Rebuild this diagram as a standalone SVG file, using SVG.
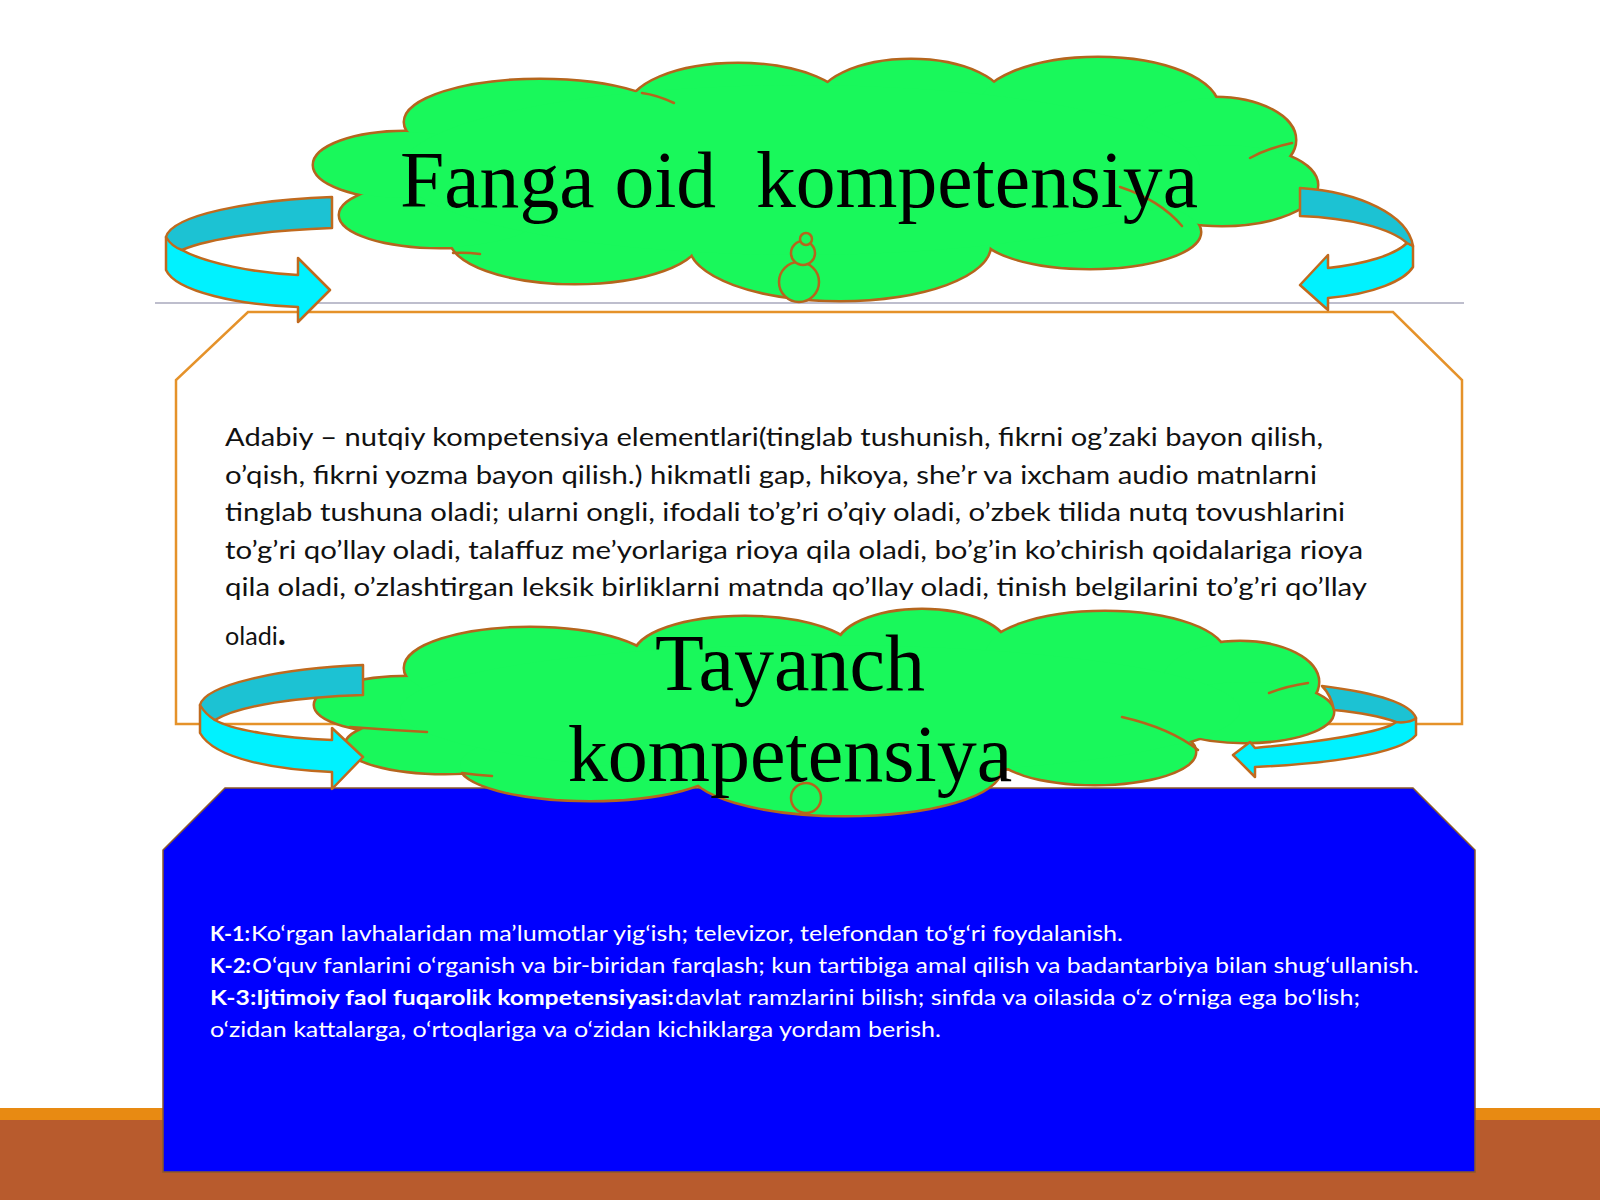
<svg xmlns="http://www.w3.org/2000/svg" xmlns:xlink="http://www.w3.org/1999/xlink" width="1600" height="1200" viewBox="0 0 1600 1200">
<style>
.serif{font-family:"Liberation Serif","Times New Roman",serif;fill:#000;font-size:80px}
.body{font-family:Lato,"Liberation Sans",sans-serif;fill:#111;font-size:25px}
.wt{font-family:Lato,"Liberation Sans",sans-serif;fill:#fff;font-size:21px}
.b{font-weight:bold}
.crease{fill:none;stroke:#B5651D;stroke-width:2.5;stroke-linecap:round}
.back{fill:#1CC2D3;stroke:#C06A1E;stroke-width:2.5;stroke-linejoin:round}
.front{fill:#00F2FF;stroke:#C06A1E;stroke-width:2.5;stroke-linejoin:round}
.knob{fill:#19F85B;stroke:#B5651D;stroke-width:2.5}
</style>
<defs>
<g id="tcShape">
<ellipse cx="540" cy="122" rx="135" ry="42"/>
<ellipse cx="738" cy="110" rx="110" ry="46"/>
<ellipse cx="911" cy="105" rx="95" ry="45"/>
<ellipse cx="1098" cy="108" rx="120" ry="50"/>
<ellipse cx="1215" cy="140" rx="80" ry="42"/>
<ellipse cx="1222" cy="185" rx="95" ry="40"/>
<ellipse cx="1090" cy="232" rx="110" ry="36"/>
<ellipse cx="840" cy="245" rx="150" ry="55"/>
<ellipse cx="575" cy="238" rx="125" ry="45"/>
<ellipse cx="440" cy="215" rx="100" ry="32"/>
<ellipse cx="405" cy="165" rx="91" ry="33"/>
<ellipse cx="800" cy="170" rx="400" ry="85"/>
</g>
<g id="bcShape">
<ellipse cx="410" cy="705" rx="95" ry="28"/>
<ellipse cx="445" cy="745" rx="99" ry="28"/>
<ellipse cx="530" cy="668" rx="125" ry="40"/>
<ellipse cx="745" cy="655" rx="110" ry="38"/>
<ellipse cx="922" cy="648" rx="85" ry="38"/>
<ellipse cx="1105" cy="655" rx="120" ry="43"/>
<ellipse cx="1240" cy="682" rx="78" ry="40"/>
<ellipse cx="1245" cy="712" rx="88" ry="30"/>
<ellipse cx="1095" cy="752" rx="100" ry="32"/>
<ellipse cx="845" cy="770" rx="155" ry="45"/>
<ellipse cx="590" cy="765" rx="130" ry="35"/>
<ellipse cx="820" cy="710" rx="420" ry="65"/>
</g>
</defs>

<g id="background">
<rect x="0" y="0" width="1600" height="1200" fill="#FFFFFF"/>
<rect x="0" y="1108" width="1600" height="92" fill="#B85B2D"/>
<rect x="0" y="1108" width="1600" height="12" fill="#E88A12"/>
<line x1="155" y1="303" x2="1464" y2="303" stroke="#A9A9BD" stroke-width="1.5"/>
</g>

<g id="node-literary-box">
<polygon points="248,312 1393,312 1462,380 1462,724 176,724 176,380" fill="#FFFFFF" stroke="#E5922A" stroke-width="2.5"/>
<text class="body" x="225" y="446" textLength="1098" lengthAdjust="spacingAndGlyphs">Adabiy – nutqiy kompetensiya elementlari(tinglab tushunish, fikrni og’zaki bayon qilish,</text>
<text class="body" x="225" y="484" textLength="1092" lengthAdjust="spacingAndGlyphs">o’qish, fikrni yozma bayon qilish.) hikmatli gap, hikoya, she’r va ixcham audio matnlarni</text>
<text class="body" x="225" y="521" textLength="1120" lengthAdjust="spacingAndGlyphs">tinglab tushuna oladi; ularni ongli, ifodali to’g’ri o’qiy oladi, o’zbek tilida nutq tovushlarini</text>
<text class="body" x="225" y="559" textLength="1138" lengthAdjust="spacingAndGlyphs">to’g’ri qo’llay oladi, talaffuz me’yorlariga rioya qila oladi, bo’g’in ko’chirish qoidalariga rioya</text>
<text class="body" x="225" y="596" textLength="1142" lengthAdjust="spacingAndGlyphs">qila oladi, o’zlashtirgan leksik birliklarni matnda qo’llay oladi, tinish belgilarini to’g’ri qo’llay</text>
<text class="body" x="225" y="645" font-size="26" textLength="61" lengthAdjust="spacingAndGlyphs">oladi<tspan font-size="34" font-weight="bold">.</tspan></text>
</g>

<g id="node-fanga-oid">
<use xlink:href="#tcShape" href="#tcShape" fill="#19F85B" stroke="#B5651D" stroke-width="5"/>
<use xlink:href="#tcShape" href="#tcShape" fill="#19F85B" stroke="none"/>
<path class="crease" d="M642,93 Q657,95 674,103"/>
<path class="crease" d="M1250,158 Q1268,148 1292,143"/>
<path class="crease" d="M1120,187 Q1160,200 1182,226"/>
<path class="crease" d="M453,253 Q465,252 480,254"/>
<circle class="knob" cx="799" cy="282" r="20"/>
<circle class="knob" cx="803" cy="253" r="12"/>
<circle class="knob" cx="806" cy="239" r="6"/>
<text class="serif" x="400" y="207" textLength="798" lengthAdjust="spacingAndGlyphs" xml:space="preserve">Fanga oid  kompetensiya</text>
</g>

<g id="node-tayanch-box">
<polygon points="225,788 1413,788 1475,850 1475,1172 163,1172 163,850" fill="#0000FE" stroke="#8A5A2A" stroke-width="1.5"/>
<text class="wt b" x="210" y="941" textLength="40" lengthAdjust="spacingAndGlyphs">K-1:</text>
<text class="wt" x="251" y="941" textLength="872" lengthAdjust="spacingAndGlyphs">Ko‘rgan lavhalaridan ma’lumotlar yig‘ish; televizor, telefondan to‘g‘ri foydalanish.</text>
<text class="wt b" x="210" y="973" textLength="41" lengthAdjust="spacingAndGlyphs">K-2:</text>
<text class="wt" x="252" y="973" textLength="1167" lengthAdjust="spacingAndGlyphs">O‘quv fanlarini o‘rganish va bir-biridan farqlash; kun tartibiga amal qilish va badantarbiya bilan shug‘ullanish.</text>
<text class="wt b" x="210" y="1005" textLength="464" lengthAdjust="spacingAndGlyphs">K-3:Ijtimoiy faol fuqarolik kompetensiyasi:</text>
<text class="wt" x="675" y="1005" textLength="685" lengthAdjust="spacingAndGlyphs">davlat ramzlarini bilish; sinfda va oilasida o‘z o‘rniga ega bo‘lish;</text>
<text class="wt" x="210" y="1037" textLength="731" lengthAdjust="spacingAndGlyphs">o‘zidan kattalarga, o‘rtoqlariga va o‘zidan kichiklarga yordam berish.</text>
</g>

<g id="node-tayanch">
<use xlink:href="#bcShape" href="#bcShape" fill="#19F85B" stroke="#B5651D" stroke-width="5"/>
<use xlink:href="#bcShape" href="#bcShape" fill="#19F85B" stroke="none"/>
<path class="crease" d="M350,727 Q390,730 427,732"/>
<path class="crease" d="M1269,693 Q1287,686 1308,683"/>
<path class="crease" d="M1122,717 Q1170,728 1198,750"/>
<path class="crease" d="M462,773 Q476,775 492,776"/>
<circle class="knob" cx="806" cy="798" r="15"/>
<text class="serif" x="790" y="690" text-anchor="middle">Tayanch</text>
<text class="serif" x="790" y="781" text-anchor="middle">kompetensiya</text>
</g>

<g id="connectors">
<g id="arrow-top-left">
<path class="front" d="M166,237 L166,270 C176,292 240,305 298,307 L298,322 L330,290 L298,258 L298,275 C255,273 205,263 182,250 Z"/>
<path class="back" d="M332,197 C250,200 172,215 166,237 C170,244 176,248 182,250 C210,238 270,230 332,228 Z"/>
</g>
<g id="arrow-top-right">
<path class="front" d="M1413,246 L1413,267 C1405,280 1375,294 1328,298 L1328,310 L1300,285 L1328,255 L1328,268 C1365,264 1395,255 1407,243 Z"/>
<path class="back" d="M1300,188 C1360,192 1408,215 1413,246 C1411,245 1409,244 1407,243 C1390,228 1350,218 1300,216 Z"/>
</g>
<g id="arrow-bottom-left">
<path class="front" d="M200,705 L200,733 C215,760 280,770 332,772 L332,789 L363,757 L332,728 L332,740 C280,738 232,730 215,720 Z"/>
<path class="back" d="M363,665 C280,668 205,685 200,705 C204,712 210,717 215,720 C240,705 300,697 363,695 Z"/>
</g>
<g id="arrow-bottom-right">
<path class="front" d="M1416,718 L1416,735 C1400,755 1320,764 1255,767 L1255,777 L1233,755 L1250,742 L1255,748 C1320,742 1385,732 1396,722 Z"/>
<path class="back" d="M1322,686 C1370,692 1410,702 1416,718 C1412,722 1402,723 1396,722 C1380,716 1355,712 1334,710 C1332,700 1328,692 1322,686 Z"/>
</g>
</g>
</svg>
